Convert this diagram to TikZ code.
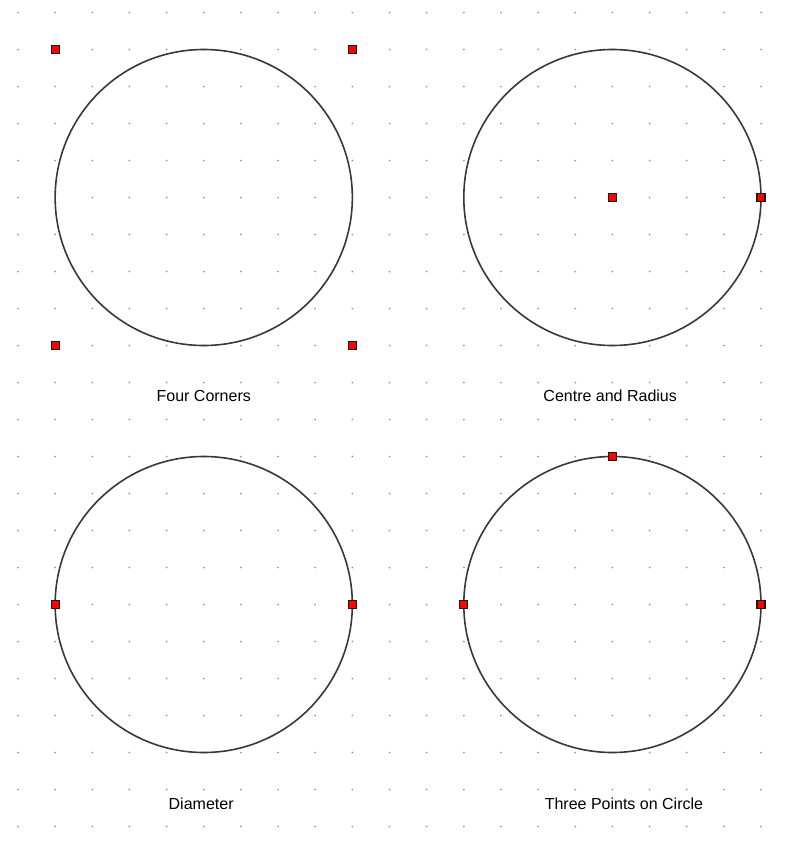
\documentclass[tikz,border=0pt]{standalone}
\usepackage{fontspec}
\setmainfont{Liberation Sans}
\usepackage{xcolor}
\usepackage{tikz}
\usetikzlibrary{calc}

\tikzset{
	griddot/.style={fill=black!40},
	outline/.style={draw=black!78, line width=1.6pt},
	handle/.style={draw=black!90, fill=red, line width=1.2pt, minimum size=8pt, inner sep=0pt, rectangle},
	caption/.style={anchor=base, inner sep=0pt, font=\fontsize{16}{19}\selectfont}
}

\begin{document}
\begin{tikzpicture}[x=37.15pt, y=-37pt]
			\useasboundingbox (-18pt,12.5pt) rectangle (772pt,-850.5pt);
			% dotted background grid
			\foreach \i in {0,...,20}
				\foreach \j in {0,...,22}
					\fill[griddot] (\i,\j) circle (1pt);

			% Four Corners
			\coordinate (fc) at (5,5);
			\draw[outline] (fc) circle (4);
			\node[handle] (fc-nw) at (1,1) {};
			\node[handle] (fc-ne) at (9,1) {};
			\node[handle] (fc-sw) at (1,9) {};
			\node[handle] (fc-se) at (9,9) {};
			\node[caption] (fc-label) at (5,10.5) {Four Corners};

			% Centre and Radius
			\coordinate (cr) at (16,5);
			\draw[outline] (cr) circle (4);
			\node[handle] (cr-centre) at (cr) {};
			\node[handle] (cr-rim) at (20,5) {};
			\node[caption] (cr-label) at (15.94,10.5) {Centre and Radius};

			% Diameter
			\coordinate (dm) at (5,16);
			\draw[outline] (dm) circle (4);
			\node[handle] (dm-w) at (1,16) {};
			\node[handle] (dm-e) at (9,16) {};
			\node[caption] (dm-label) at (4.93,21.53) {Diameter};

			% Three Points on Circle
			\coordinate (tp) at (16,16);
			\draw[outline] (tp) circle (4);
			\node[handle] (tp-w) at (12,16) {};
			\node[handle] (tp-e) at (20,16) {};
			\node[handle] (tp-n) at (16,12) {};
			\node[caption] (tp-label) at (16.31,21.53) {Three Points on Circle};
		\end{tikzpicture}
\end{document}
